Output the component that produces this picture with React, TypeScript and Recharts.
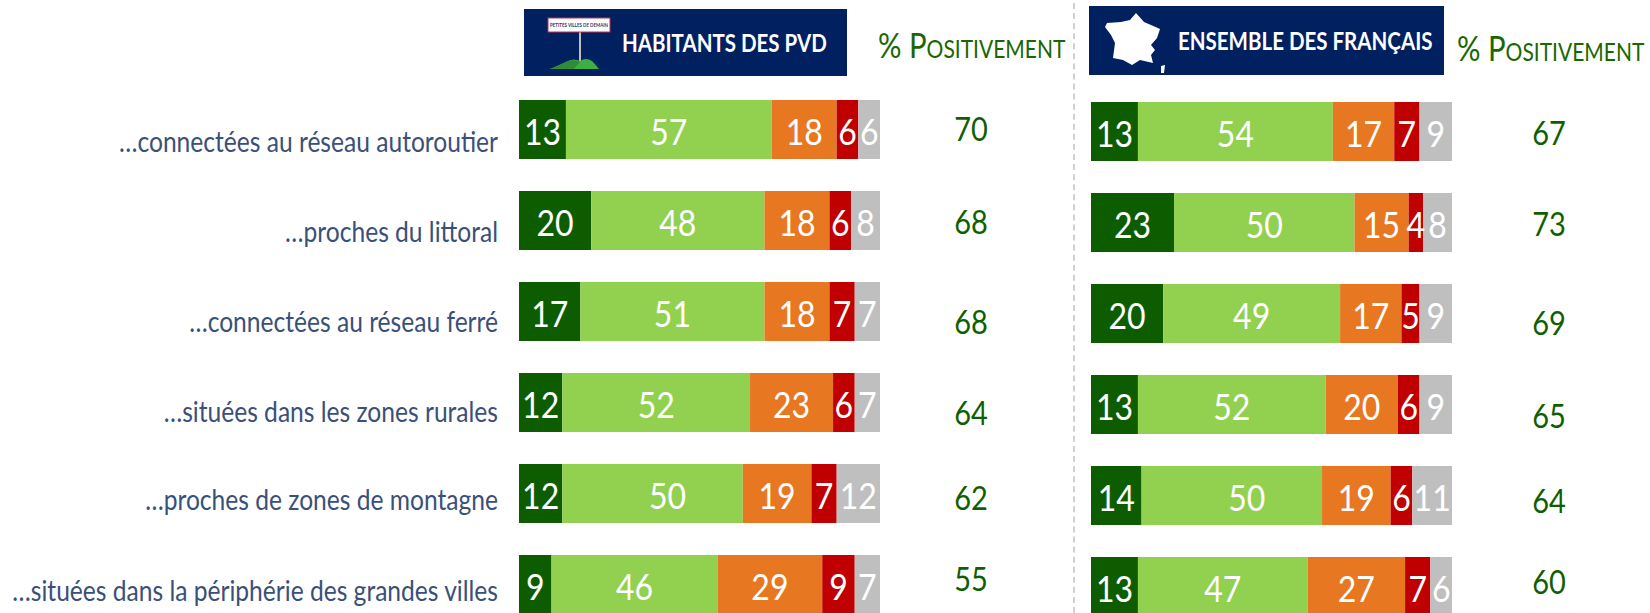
import React from "react";
import { BarChart, Bar, XAxis, YAxis, LabelList } from "recharts";

const categories = [
  "…connectées au réseau autoroutier",
  "…proches du littoral",
  "…connectées au réseau ferré",
  "…situées dans les zones rurales",
  "…proches de zones de montagne",
  "…situées dans la périphérie des grandes villes",
];
const pvdTresPos = [13, 20, 17, 12, 12, 9];
const pvdPlutotPos = [57, 48, 51, 52, 50, 46];
const pvdPlutotNeg = [18, 18, 18, 23, 19, 29];
const pvdTresNeg = [6, 6, 7, 6, 7, 9];
const pvdNsp = [6, 8, 7, 7, 12, 7];
const pvdPositif = [70, 68, 68, 64, 62, 55];

const frTresPos = [13, 23, 20, 13, 14, 13];
const frPlutotPos = [54, 50, 49, 52, 50, 47];
const frPlutotNeg = [17, 15, 17, 20, 19, 27];
const frTresNeg = [7, 4, 5, 6, 6, 7];
const frNsp = [9, 8, 9, 9, 11, 6];
const frPositif = [67, 73, 69, 65, 64, 60];

const seriesKeys = ["a", "b", "c", "d", "e"];
const seriesColors = ["#0E5C00", "#92D050", "#E87722", "#C00000", "#BFBFBF"];

const build = (s: number[][], pos: number[]) =>
  categories.map((name, i) => ({
    name,
    a: s[0][i],
    b: s[1][i],
    c: s[2][i],
    d: s[3][i],
    e: s[4][i],
    pos: pos[i],
  }));

const pvdData = build([pvdTresPos, pvdPlutotPos, pvdPlutotNeg, pvdTresNeg, pvdNsp], pvdPositif);
const frData = build([frTresPos, frPlutotPos, frPlutotNeg, frTresNeg, frNsp], frPositif);

const FONT = "Lato, 'Open Sans', sans-serif";
const STRETCH = 1.16;

// text drawn at (x, y) and stretched vertically round that point
const Stretched = ({ x, y, children, ...rest }: any) => (
  <text
    transform={`translate(${x} ${y}) scale(1 ${STRETCH})`}
    dominantBaseline="central"
    fontFamily={FONT}
    {...rest}
  >
    {children}
  </text>
);

const PosLabel = (dx: number, dys: number[]) => (props: any) => {
  const { x, y, width, height, value, index } = props;
  return (
    <Stretched x={x + width + dx} y={y + height / 2 + dys[index]} textAnchor="middle" fontSize={29} fill="#0F5F00">
      {value}
    </Stretched>
  );
};

const ValueLabel = (seriesIndex: number) => (props: any) => {
  const { x, y, width, height, value, index } = props;
  const nudge = seriesIndex === 1 && index === 4 ? 15 : 0;
  return (
    <Stretched x={x + width / 2 + nudge} y={y + height / 2 + 1} textAnchor="middle" fontSize={32} fill="#fff">
      {value}
    </Stretched>
  );
};

const tickDys = [7.5, 6.5, 6, 5, 2, 2];
const Tick = (props: any) => {
  const { x, y, payload, index } = props;
  return (
    <Stretched x={x} y={y + 4 + tickDys[index]} textAnchor="end" fontSize={24.6} fill="#3A5078">
      {payload.value}
    </Stretched>
  );
};

function Panel({ data, width, ml, mr, mt, showAxis, posDx, posDys }: any) {
  return (
    <BarChart
      width={width}
      height={640}
      data={data}
      layout="vertical"
      barSize={59}
      margin={{ top: mt, right: mr, bottom: 640 - mt - 546, left: ml }}
    >
      <XAxis type="number" domain={[0, 100]} hide />
      <YAxis
        type="category"
        dataKey="name"
        width={showAxis ? 519 : 0}
        hide={!showAxis}
        axisLine={false}
        tickLine={false}
        tickMargin={15}
        interval={0}
        tick={<Tick />}
      />
      {seriesKeys.map((k, i) => (
        <Bar key={k} dataKey={k} stackId="s" fill={seriesColors[i]} isAnimationActive={false}>
          <LabelList dataKey={k} content={ValueLabel(i) as any} />
          {i === 4 ? <LabelList dataKey="pos" content={PosLabel(posDx, posDys) as any} /> : null}
        </Bar>
      ))}
    </BarChart>
  );
}

const Banner = ({ left, top, w, h, text, textLeft, children }: any) => (
  <div style={{ position: "absolute", left, top, width: w, height: h, background: "#002060" }}>
    {children}
    <div
      style={{
        position: "absolute",
        left: textLeft,
        top: 3,
        height: h,
        lineHeight: h - 4 + "px",
        color: "#fff",
        fontFamily: FONT,
        fontWeight: 700,
        fontSize: 20.5,
        whiteSpace: "nowrap",
        transform: `scaleY(${STRETCH})`,
      }}
    >
      {text}
    </div>
  </div>
);

const Poz = ({ left, top }: any) => (
  <div
    style={{
      position: "absolute",
      left,
      top,
      color: "#1A6600",
      fontFamily: FONT,
      fontSize: 29.3,
      fontVariant: "small-caps",
      whiteSpace: "nowrap",
      transform: `scaleY(${STRETCH})`,
    }}
  >
    % Positivement
  </div>
);

export default function App() {
  return (
    <div style={{ position: "absolute", left: 0, top: 0, width: 1650, height: 613, overflow: "hidden", background: "#fff" }}>
      <div style={{ position: "absolute", left: 0, top: 0 }}>
        <Panel data={pvdData} width={1073} ml={0} mr={193} mt={84} showAxis posDx={91} posDys={[-1, 1, 10, 10, 4, -6]} />
      </div>
      <div style={{ position: "absolute", left: 1073, top: 0 }}>
        <Panel data={frData} width={577} ml={18} mr={198} mt={86} showAxis={false} posDx={97} posDys={[0.5, 1, 9, 11, 5, -5]} />
      </div>
      <div style={{ position: "absolute", left: 1073, top: 3, height: 610, borderLeft: "2px dashed #D0D0D0" }} />
      <Banner left={524} top={9} w={323} h={67} text="HABITANTS DES PVD" textLeft={98}>
        <svg width={90} height={67} style={{ position: "absolute", left: 0, top: 0 }}>
          <rect x={55} y={23} width={2} height={30} fill="#BFBFBF" />
          <path d="M26 60 Q36 56 44 52 Q50 49 56 52 Q62 48 68 52 Q72 56 75 60 Z" fill="#3CB043" />
          <path d="M26 60 Q36 56 44 52 Q50 50 56 53 Q52 57 50 60 Z" fill="#2E8B3A" />
          <rect x={24} y={9} width={62} height={14} fill="#fff" stroke="#C0304A" strokeWidth={1} />
          <text x={55} y={18} textAnchor="middle" fontFamily={FONT} fontSize={5} fontWeight={700} textLength={58} lengthAdjust="spacingAndGlyphs" fill="#1F3864">
            PETITES VILLES DE DEMAIN
          </text>
        </svg>
      </Banner>
      <Banner left={1089} top={6} w={355} h={69} text="ENSEMBLE DES FRANÇAIS" textLeft={89}>
        <svg width={80} height={69} style={{ position: "absolute", left: 0, top: 0 }}>
          <path
            d="M47 7 L55 16 L62 19 L71 23 L68 32 L62 39 L66 44 L62 49 L64 57 L51 54 L43 59 L34 54 L24 52 L26 37 L22 29 L16 21 L18 17 L32 16 L41 14 Z M72 60 L76 59 L75 67 L72 67 Z"
            fill="#fff"
          />
        </svg>
      </Banner>
      <Poz left={878} top={27} />
      <Poz left={1457} top={30} />
    </div>
  );
}
